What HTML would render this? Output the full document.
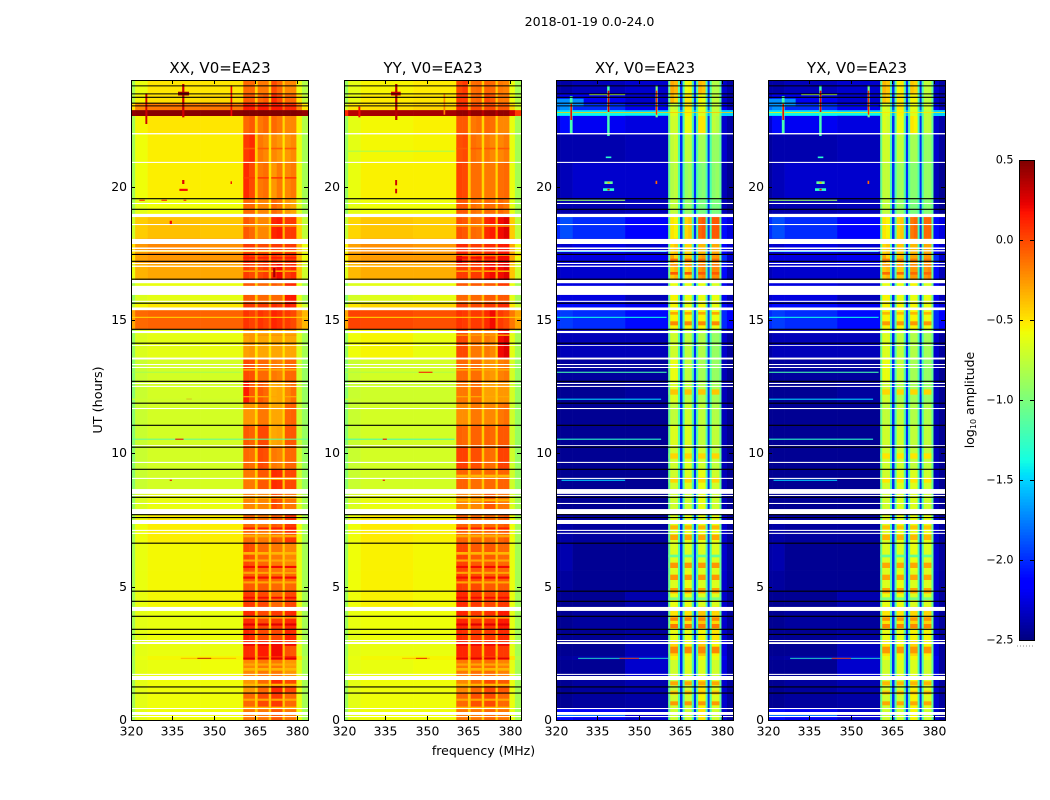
<!DOCTYPE html>
<html><head><meta charset="utf-8"><title>2018-01-19 0.0-24.0</title>
<style>
html,body{margin:0;padding:0;background:#fff}
svg{display:block}
text{font-family:"DejaVu Sans","Liberation Sans",sans-serif;fill:#000}
</style></head>
<body>
<svg id="chart" xmlns="http://www.w3.org/2000/svg" width="1050" height="800" viewBox="0 0 1050 800">
<rect x="0" y="0" width="1050" height="800" fill="#fff"/>
<text x="589.5" y="26" font-size="12.6" text-anchor="middle">2018-01-19 0.0-24.0</text>
<text x="483.5" y="755" font-size="12.5" text-anchor="middle">frequency (MHz)</text>
<text x="0" y="0" font-size="12.8" text-anchor="middle" transform="translate(102,400) rotate(-90)">UT (hours)</text>
<text x="0" y="0" font-size="12.5" text-anchor="middle" transform="translate(974,400) rotate(-90)">log<tspan font-size="8" dy="2">10</tspan><tspan dy="-2"> amplitude</tspan></text>
<g id="panels"></g>
<g id="colorbar"></g>
</svg>
<script>
// Frequency bin edges (MHz) and UT band edges (hours, top to bottom)
const freqEdges = [320,321.5,326,345,360.6,362.7,364.8,365.8,367.8,369.8,370.7,372.7,374.8,375.6,377.7,379.8,381.8,384];
const utEdges = [24,23.47,23.13,22.87,22.65,22,20.9,19.55,18.95,18.05,17.45,17.1,16.5,16.25,15.6,15.37,14.65,13.55,12.7,11.9,11.05,10.25,9.4,8.65,7.9,6.65,5.6,4.85,4.25,3.4,2.95,2.4,2.25,1.65,1,0.45,0];

// log10 amplitude per UT band (rows) and frequency bin (columns)
const xxValues = [
[-.85,-.6,-.5,-.5,-.1,-.1,-.45,-.15,-.15,-.45,0,-.1,-.4,-.2,-.2,-.6,-.8],
[-.8,-.55,-.48,-.46,-.05,-.05,-.4,-.1,-.05,-.4,.1,0,-.35,-.1,-.1,-.5,-.75],
[-.5,-.2,-.15,-.15,.15,.15,-.1,.15,.15,-.1,.15,.15,-.1,.1,.1,-.2,-.5],
[.45,.48,.48,.48,.5,.5,.48,.5,.5,.48,.5,.5,.48,.5,.5,.48,.45],
[-.85,-.55,-.5,-.5,-.1,-.05,-.4,-.15,-.1,-.45,-.1,-.15,-.45,-.2,-.2,-.55,-.8],
[-.85,-.58,-.53,-.53,.05,.1,-.42,-.15,-.2,-.5,-.2,-.25,-.5,-.25,-.2,-.6,-.85],
[-.85,-.58,-.53,-.53,.1,.0,-.42,-.15,-.12,-.5,-.25,-.15,-.5,-.2,-.15,-.6,-.85],
[-.85,-.62,-.58,-.58,-.1,-.1,-.45,-.2,-.2,-.5,-.1,-.15,-.5,-.25,-.3,-.65,-.85],
[-.7,-.42,-.38,-.4,-.05,-.1,-.35,-.2,-.2,-.4,.12,.15,-.35,.05,.05,-.45,-.75],
[-.5,-.25,-.2,-.22,.05,.05,-.25,0,0,-.3,.05,.05,-.3,.05,.05,-.35,-.6],
[-.5,-.28,-.25,-.25,.1,.05,-.2,0,.05,-.25,.05,0,-.25,.05,.05,-.35,-.6],
[-.6,-.34,-.3,-.3,.05,.0,-.3,0,.05,-.3,.1,.2,-.3,.05,.1,-.4,-.7],
[-.85,-.62,-.6,-.6,-.05,-.05,-.4,-.1,-.1,-.4,-.05,-.1,-.4,.1,.1,-.6,-.85],
[-.9,-.65,-.62,-.62,-.05,-.05,-.4,-.1,-.1,-.4,-.1,-.1,-.4,.15,.15,-.62,-.85],
[-.75,-.55,-.5,-.5,.05,.05,-.25,.05,.05,-.25,.1,.05,-.25,.15,.1,-.5,-.7],
[-.3,-.1,-.08,-.08,.07,.03,-.1,.07,.03,-.1,.12,.08,-.1,.05,0,-.2,-.35],
[-.9,-.65,-.62,-.6,-.28,-.25,-.5,-.3,-.3,-.5,-.3,-.3,-.5,-.3,-.3,-.65,-.85],
[-.95,-.72,-.68,-.68,.0,-.02,-.42,-.1,-.1,-.42,-.15,-.18,-.42,-.1,-.1,-.7,-.9],
[-.95,-.72,-.68,-.68,.15,-.05,-.42,-.05,-.1,-.42,-.32,-.3,-.45,-.2,-.12,-.7,-.9],
[-.95,-.72,-.68,-.68,-.25,-.25,-.45,-.15,-.15,-.42,-.3,-.3,-.45,-.1,-.08,-.72,-.9],
[-.95,-.72,-.68,-.68,-.05,-.08,-.42,0,0,-.4,-.3,-.28,-.45,-.05,-.05,-.72,-.9],
[-.95,-.72,-.68,-.68,-.1,-.12,-.42,0,-.02,-.4,-.15,-.18,-.42,-.1,-.1,-.7,-.9],
[-.95,-.72,-.68,-.67,-.15,-.15,-.42,-.05,-.05,-.4,.1,.08,-.4,0,0,-.7,-.9],
[-.9,-.66,-.6,-.6,-.2,-.2,-.42,-.2,-.2,-.42,0,-.05,-.42,-.15,-.15,-.65,-.85],
[-.85,-.58,-.53,-.53,-.1,-.1,-.38,-.15,-.15,-.4,-.05,-.08,-.4,.05,.05,-.58,-.85],
[-.85,-.6,-.56,-.55,0,-.02,-.4,-.1,-.1,-.42,-.15,-.15,-.42,-.2,-.2,-.6,-.85],
[-.85,-.6,-.56,-.55,-.05,-.05,-.4,-.05,-.05,-.42,-.1,-.1,-.42,-.1,-.1,-.6,-.85],
[-.85,-.6,-.56,-.55,.05,.05,-.38,0,0,-.4,-.1,-.1,-.4,0,0,-.6,-.85],
[-.85,-.62,-.6,-.6,.1,.1,-.38,0,0,-.4,.05,.05,-.4,.1,.1,-.62,-.85],
[-.85,-.62,-.58,-.58,.12,.08,-.38,0,0,-.4,0,0,-.4,.12,.08,-.62,-.85],
[-.85,-.62,-.6,-.6,.1,.1,-.35,.15,.15,-.38,.2,.2,-.38,-.02,-.05,-.62,-.85],
[-.8,-.6,-.56,-.55,.1,.1,-.3,.05,.05,-.3,.1,.1,-.3,.1,.1,-.5,-.8],
[-.85,-.62,-.6,-.58,-.2,-.2,-.42,-.15,-.15,-.42,-.15,-.15,-.42,-.25,-.25,-.62,-.85],
[-.85,-.62,-.58,-.58,-.25,-.25,-.42,-.1,-.1,-.42,.1,.1,-.42,0,0,-.6,-.85],
[-.85,-.62,-.58,-.58,-.1,-.1,-.42,0,0,-.4,.05,.05,-.42,-.1,-.1,-.6,-.85],
[-.85,-.62,-.58,-.58,-.15,-.15,-.42,-.15,-.15,-.42,-.05,-.05,-.42,-.15,-.15,-.6,-.85]
];
const yyValues = [
[-.9,-.62,-.55,-.52,0,.05,-.42,-.12,-.1,-.42,-.08,-.1,-.42,-.15,-.18,-.6,-.85],
[-.85,-.6,-.52,-.5,.05,.05,-.4,-.1,-.08,-.42,0,-.05,-.4,-.15,-.15,-.58,-.8],
[-.7,-.5,-.48,-.45,.1,.1,-.3,0,0,-.3,0,0,-.3,-.05,-.05,-.45,-.7],
[.1,.35,.4,.4,.45,.45,.35,.45,.45,.35,.45,.45,.35,.45,.45,.3,.05],
[-.9,-.62,-.56,-.54,-.05,-.05,-.42,-.15,-.12,-.45,-.1,-.12,-.45,-.2,-.2,-.6,-.85],
[-.9,-.62,-.56,-.55,-.02,0,-.42,-.12,-.15,-.45,-.15,-.2,-.45,-.2,-.15,-.6,-.85],
[-.9,-.6,-.54,-.54,.02,.0,-.42,-.12,-.12,-.45,-.15,-.15,-.45,-.12,-.1,-.6,-.85],
[-.9,-.62,-.58,-.58,-.05,-.05,-.42,-.12,-.15,-.42,-.1,-.12,-.42,-.1,-.15,-.62,-.85],
[-.75,-.45,-.4,-.42,-.02,-.05,-.35,-.1,-.12,-.35,.1,.15,-.35,.2,.25,-.42,-.75],
[-.55,-.28,-.22,-.25,.1,.1,-.2,.05,.05,-.25,.1,.1,-.25,.15,.15,-.3,-.6],
[-.55,-.3,-.26,-.26,.25,.1,-.15,.05,.1,-.2,.1,.1,-.2,.2,.2,-.3,-.6],
[-.65,-.36,-.32,-.32,.05,.05,-.28,.05,.05,-.28,.15,.2,-.28,.2,.25,-.4,-.7],
[-.9,-.65,-.62,-.6,-.05,-.05,-.38,-.05,-.05,-.38,-.05,-.05,-.38,.05,.05,-.6,-.85],
[-.95,-.68,-.64,-.62,-.1,-.1,-.38,-.1,-.1,-.38,-.05,-.05,-.38,-.05,-.05,-.62,-.85],
[-.75,-.5,-.45,-.45,.02,.02,-.25,0,0,-.25,.05,.05,-.25,.1,.1,-.5,-.7],
[-.3,.02,.0,-.02,.07,.05,-.1,.05,.05,-.1,.1,.2,-.15,.05,0,-.15,-.3],
[-.9,-.58,-.55,-.6,.0,.0,-.42,-.15,-.15,-.42,-.15,-.2,-.42,.2,.25,-.62,-.85],
[-.95,-.72,-.68,-.68,-.1,-.1,-.4,-.12,-.12,-.4,-.22,-.25,-.42,-.18,-.15,-.68,-.9],
[-.95,-.72,-.7,-.7,-.15,-.15,-.42,-.12,-.12,-.42,-.28,-.28,-.42,-.25,-.25,-.68,-.9],
[-.95,-.72,-.68,-.68,-.22,-.22,-.42,-.15,-.15,-.42,-.2,-.2,-.42,-.15,-.12,-.7,-.9],
[-.95,-.72,-.68,-.68,-.08,-.1,-.4,-.08,-.08,-.42,-.08,-.1,-.42,-.05,-.05,-.7,-.9],
[-.95,-.72,-.68,-.68,.03,.03,-.38,-.02,-.02,-.4,-.1,-.12,-.42,.02,.02,-.7,-.9],
[-.95,-.72,-.68,-.68,-.08,-.08,-.38,-.12,-.12,-.4,-.1,-.1,-.42,-.08,-.08,-.7,-.9],
[-.9,-.66,-.6,-.6,-.2,-.2,-.42,-.2,-.2,-.42,-.05,-.05,-.42,-.15,-.15,-.65,-.85],
[-.88,-.58,-.52,-.54,-.08,-.08,-.38,-.1,-.1,-.38,-.1,-.12,-.38,-.08,-.05,-.58,-.85],
[-.88,-.58,-.54,-.56,.02,.02,-.38,-.05,-.05,-.38,-.05,-.05,-.38,-.1,-.1,-.6,-.85],
[-.88,-.58,-.54,-.56,.05,.03,-.38,.0,.0,-.38,-.05,-.05,-.38,-.05,-.05,-.6,-.85],
[-.88,-.58,-.54,-.56,.1,.1,-.38,.05,.05,-.38,0,0,-.38,.05,.05,-.6,-.85],
[-.88,-.6,-.58,-.58,.12,.12,-.35,.05,.05,-.38,.08,.08,-.38,.15,.15,-.62,-.85],
[-.88,-.62,-.58,-.58,.1,.08,-.35,.05,.05,-.38,.05,.05,-.38,.1,.1,-.62,-.85],
[-.88,-.62,-.6,-.6,.12,.12,-.35,.1,.1,-.38,.1,.1,-.38,.05,.05,-.62,-.85],
[-.85,-.6,-.56,-.55,.1,.1,-.3,.1,.1,-.3,.05,.05,-.3,.05,.05,-.5,-.8],
[-.88,-.62,-.6,-.58,-.15,-.15,-.42,-.12,-.12,-.42,-.12,-.12,-.42,-.18,-.18,-.62,-.85],
[-.88,-.62,-.58,-.58,-.2,-.2,-.42,-.1,-.1,-.42,.0,.0,-.42,-.05,-.05,-.6,-.85],
[-.88,-.62,-.58,-.58,-.1,-.1,-.42,-.02,-.02,-.42,0,0,-.42,-.1,-.1,-.6,-.85],
[-.88,-.62,-.58,-.58,-.15,-.15,-.42,-.15,-.15,-.42,-.1,-.1,-.42,-.15,-.15,-.6,-.85]
];
const xyValues = [
[-2.4,-2.4,-2.35,-2.3,-.3,-.35,-2,-.6,-.55,-2,-.35,-.4,-2,-.8,-.8,-2.3,-2.4],
[-2.3,-2.2,-2.2,-2.3,-.35,-.45,-2,-.5,-.5,-2,-.55,-.6,-2,-.75,-.75,-2.3,-2.4],
[-1.8,-1.7,-2,-2.2,-.7,-.75,-1.9,-.5,-.5,-1.9,-.6,-.6,-1.9,-.75,-.75,-2.2,-2.35],
[-1.5,-1.5,-1.5,-1.6,-.65,-.65,-1.6,-.55,-.55,-1.6,-.65,-.65,-1.6,-.75,-.75,-1.5,-1.5],
[-2.3,-2.1,-2.2,-2.25,-.7,-.7,-2,-.6,-.6,-2,-.5,-.5,-2,-.75,-.8,-2.3,-2.4],
[-2.42,-2.38,-2.38,-2.35,-.75,-.7,-2,-.75,-.75,-2,-.85,-.85,-2,-.9,-.9,-2.3,-2.42],
[-2.42,-2.35,-2.3,-2.3,-.8,-.75,-2,-.9,-.85,-2,-1,-.95,-2,-.95,-.9,-2.35,-2.45],
[-2.42,-2.38,-2.38,-2.35,-.75,-.75,-2,-.9,-.9,-2,-1,-1,-2,-1,-1,-2.35,-2.45],
[-2,-1.9,-2,-2.15,-.5,-.55,-2,-.45,-.4,-2,-.1,-.05,-2,-.05,-.05,-2.1,-2.25],
[-2.3,-2.3,-2.25,-2.3,-.45,-.4,-2,-.45,-.45,-2,-.35,-.35,-2,-.3,-.3,-2.15,-2.3],
[-2.25,-2.25,-2.25,-2.2,-.3,-.45,-1.9,-.4,-.4,-1.9,-.3,-.25,-1.9,-.25,-.25,-2,-2.3],
[-2.35,-2.3,-2.3,-2.3,-.4,-.35,-1.9,-.45,-.4,-1.9,-.25,-.2,-1.9,-.2,-.2,-2.1,-2.35],
[-2.25,-2.25,-2.25,-2.3,-.6,-.6,-2,-.6,-.6,-2,-.6,-.6,-2,-.65,-.65,-2.2,-2.35],
[-2.3,-2.25,-2.25,-2.35,-.55,-.55,-2,-.6,-.6,-2,-.6,-.6,-2,-.6,-.6,-2.2,-2.35],
[-2.2,-2.1,-2.1,-2.2,-.55,-.55,-2,-.6,-.6,-2,-.55,-.55,-2,-.6,-.6,-2.1,-2.25],
[-2,-1.95,-2,-2.1,-.55,-.55,-1.95,-.55,-.55,-1.95,-.55,-.55,-1.95,-.6,-.6,-2,-2.15],
[-2.4,-2.35,-2.35,-2.35,-.7,-.7,-2,-.75,-.75,-2,-.8,-.8,-2,-.9,-.9,-2.3,-2.42],
[-2.45,-2.42,-2.42,-2.42,-.6,-.6,-2,-.75,-.75,-2,-.85,-.85,-2,-.9,-.9,-2.35,-2.45],
[-2.45,-2.45,-2.45,-2.42,-.65,-.65,-2,-.75,-.75,-2,-.8,-.8,-2,-.85,-.85,-2.35,-2.45],
[-2.45,-2.45,-2.45,-2.45,-.75,-.75,-2,-.7,-.7,-2,-.75,-.75,-2,-.8,-.8,-2.35,-2.45],
[-2.45,-2.45,-2.45,-2.45,-.65,-.65,-2,-.65,-.65,-2,-.75,-.75,-2,-.75,-.75,-2.35,-2.45],
[-2.45,-2.45,-2.45,-2.45,-.7,-.7,-2,-.65,-.65,-2,-.7,-.7,-2,-.75,-.75,-2.35,-2.45],
[-2.45,-2.45,-2.45,-2.45,-.7,-.7,-2,-.65,-.65,-2,-.6,-.6,-2,-.7,-.7,-2.35,-2.45],
[-2.45,-2.45,-2.45,-2.45,-.7,-.7,-2,-.7,-.7,-2,-.6,-.6,-2,-.7,-.7,-2.35,-2.45],
[-2.42,-2.4,-2.42,-2.42,-.65,-.65,-2,-.6,-.6,-2,-.6,-.6,-2,-.6,-.6,-2.3,-2.42],
[-2.4,-2.38,-2.45,-2.45,-.65,-.65,-2,-.65,-.65,-2,-.65,-.65,-2,-.65,-.65,-2.3,-2.42],
[-2.42,-2.42,-2.45,-2.45,-.65,-.65,-2,-.6,-.6,-2,-.65,-.65,-2,-.65,-.65,-2.3,-2.42],
[-2.45,-2.45,-2.45,-2.38,-.6,-.6,-2,-.6,-.6,-2,-.65,-.65,-2,-.65,-.65,-2.3,-2.42],
[-2.45,-2.45,-2.42,-2.42,-.5,-.5,-2,-.5,-.5,-2,-.4,-.4,-2,-.45,-.45,-2.3,-2.42],
[-2.45,-2.45,-2.45,-2.42,-.6,-.6,-2,-.6,-.6,-2,-.55,-.55,-2,-.5,-.5,-2.3,-2.42],
[-2.45,-2.45,-2.45,-2.35,-.45,-.45,-2,-.55,-.55,-2,-.4,-.4,-2,-.55,-.55,-2.25,-2.42],
[-2.42,-2.42,-2.4,-2.3,-.55,-.55,-2,-.6,-.6,-2,-.55,-.55,-2,-.6,-.6,-2.2,-2.42],
[-2.45,-2.45,-2.45,-2.3,-.7,-.7,-2,-.65,-.65,-2,-.65,-.65,-2,-.7,-.7,-2.25,-2.42],
[-2.45,-2.45,-2.42,-2.38,-.75,-.75,-2,-.7,-.7,-2,-.5,-.5,-2,-.65,-.65,-2.3,-2.42],
[-2.45,-2.45,-2.42,-2.4,-.7,-.7,-2,-.7,-.7,-2,-.55,-.55,-2,-.65,-.65,-2.3,-2.42],
[-2.1,-2.1,-2.2,-2.3,-.7,-.7,-2,-.7,-.7,-2,-.5,-.5,-2,-.7,-.7,-2.3,-2.42]
];
const yxValues = [
[-2.4,-2.4,-2.35,-2.3,-.35,-.4,-2,-.55,-.5,-2,-.4,-.45,-2,-.75,-.75,-2.3,-2.4],
[-2.3,-2.2,-2.2,-2.3,-.4,-.45,-2,-.5,-.5,-2,-.55,-.55,-2,-.75,-.75,-2.3,-2.4],
[-1.8,-1.7,-2,-2.2,-.65,-.7,-1.9,-.5,-.5,-1.9,-.6,-.6,-1.9,-.7,-.7,-2.2,-2.35],
[-1.5,-1.5,-1.5,-1.6,-.65,-.65,-1.6,-.55,-.55,-1.6,-.65,-.65,-1.6,-.75,-.75,-1.5,-1.5],
[-2.3,-2.1,-2.2,-2.25,-.65,-.7,-2,-.6,-.6,-2,-.5,-.55,-2,-.75,-.75,-2.3,-2.4],
[-2.42,-2.38,-2.38,-2.35,-.7,-.7,-2,-.75,-.75,-2,-.85,-.85,-2,-.9,-.9,-2.3,-2.42],
[-2.42,-2.35,-2.3,-2.3,-.75,-.75,-2,-.9,-.85,-2,-.95,-.95,-2,-.9,-.9,-2.35,-2.45],
[-2.42,-2.38,-2.38,-2.35,-.75,-.75,-2,-.9,-.9,-2,-1,-1,-2,-.95,-.95,-2.35,-2.45],
[-2,-1.9,-2,-2.15,-.5,-.55,-2,-.45,-.4,-2,-.15,-.1,-2,-.1,-.1,-2.1,-2.25],
[-2.3,-2.3,-2.25,-2.3,-.45,-.4,-2,-.4,-.4,-2,-.35,-.35,-2,-.3,-.3,-2.15,-2.3],
[-2.25,-2.25,-2.25,-2.2,-.3,-.45,-1.9,-.4,-.35,-1.9,-.3,-.3,-1.9,-.25,-.25,-2,-2.3],
[-2.35,-2.3,-2.3,-2.3,-.4,-.35,-1.9,-.4,-.4,-1.9,-.25,-.25,-1.9,-.25,-.2,-2.1,-2.35],
[-2.25,-2.25,-2.25,-2.3,-.6,-.6,-2,-.6,-.6,-2,-.55,-.55,-2,-.65,-.65,-2.2,-2.35],
[-2.3,-2.25,-2.25,-2.35,-.55,-.55,-2,-.6,-.6,-2,-.6,-.6,-2,-.6,-.6,-2.2,-2.35],
[-2.2,-2.1,-2.1,-2.2,-.55,-.55,-2,-.55,-.55,-2,-.55,-.55,-2,-.6,-.6,-2.1,-2.25],
[-2,-1.95,-2,-2.1,-.55,-.55,-1.95,-.55,-.55,-1.95,-.55,-.55,-1.95,-.6,-.6,-2,-2.15],
[-2.4,-2.35,-2.35,-2.35,-.65,-.65,-2,-.75,-.75,-2,-.8,-.8,-2,-.85,-.85,-2.3,-2.42],
[-2.45,-2.42,-2.42,-2.42,-.6,-.6,-2,-.75,-.75,-2,-.85,-.85,-2,-.9,-.9,-2.35,-2.45],
[-2.45,-2.45,-2.45,-2.42,-.7,-.7,-2,-.8,-.8,-2,-.85,-.85,-2,-.9,-.9,-2.35,-2.45],
[-2.45,-2.45,-2.45,-2.45,-.75,-.75,-2,-.75,-.75,-2,-.8,-.8,-2,-.8,-.8,-2.35,-2.45],
[-2.45,-2.45,-2.45,-2.45,-.7,-.7,-2,-.7,-.7,-2,-.75,-.75,-2,-.75,-.75,-2.35,-2.45],
[-2.45,-2.45,-2.45,-2.45,-.7,-.7,-2,-.7,-.7,-2,-.75,-.75,-2,-.75,-.75,-2.35,-2.45],
[-2.45,-2.45,-2.45,-2.45,-.7,-.7,-2,-.65,-.65,-2,-.65,-.65,-2,-.7,-.7,-2.35,-2.45],
[-2.45,-2.45,-2.45,-2.45,-.7,-.7,-2,-.65,-.65,-2,-.65,-.65,-2,-.7,-.7,-2.35,-2.45],
[-2.42,-2.4,-2.42,-2.42,-.65,-.65,-2,-.6,-.6,-2,-.6,-.6,-2,-.6,-.6,-2.3,-2.42],
[-2.4,-2.38,-2.45,-2.45,-.65,-.65,-2,-.65,-.65,-2,-.6,-.6,-2,-.65,-.65,-2.3,-2.42],
[-2.42,-2.42,-2.45,-2.45,-.65,-.65,-2,-.6,-.6,-2,-.65,-.65,-2,-.65,-.65,-2.3,-2.42],
[-2.45,-2.45,-2.45,-2.38,-.6,-.6,-2,-.6,-.6,-2,-.65,-.65,-2,-.65,-.65,-2.3,-2.42],
[-2.45,-2.45,-2.42,-2.42,-.5,-.5,-2,-.5,-.5,-2,-.45,-.45,-2,-.45,-.45,-2.3,-2.42],
[-2.45,-2.45,-2.45,-2.42,-.6,-.6,-2,-.6,-.6,-2,-.55,-.55,-2,-.55,-.55,-2.3,-2.42],
[-2.45,-2.45,-2.45,-2.35,-.5,-.5,-2,-.55,-.55,-2,-.45,-.45,-2,-.55,-.55,-2.25,-2.42],
[-2.42,-2.42,-2.4,-2.3,-.6,-.6,-2,-.55,-.55,-2,-.55,-.55,-2,-.6,-.6,-2.2,-2.42],
[-2.45,-2.45,-2.45,-2.3,-.7,-.7,-2,-.65,-.65,-2,-.65,-.65,-2,-.7,-.7,-2.25,-2.42],
[-2.45,-2.45,-2.42,-2.38,-.7,-.7,-2,-.7,-.7,-2,-.55,-.55,-2,-.65,-.65,-2.3,-2.42],
[-2.45,-2.45,-2.42,-2.4,-.7,-.7,-2,-.7,-.7,-2,-.55,-.55,-2,-.65,-.65,-2.3,-2.42],
[-2.1,-2.1,-2.2,-2.3,-.7,-.7,-2,-.7,-.7,-2,-.55,-.55,-2,-.7,-.7,-2.3,-2.42]
];

// Fine horizontal banding across the four receiver stripes: [utLow, utHigh, log10 amplitude]
const stripeRanges = [[360.6,364.8],[365.8,369.8],[370.7,374.8],[375.6,379.8]];
const xxBands = [[.42,.5,-.35],[.72,.8,-.3],[1.28,1.36,-.35],[1.85,1.95,-.35],[2.04,2.12,-.3],[2.28,2.34,.25],[2.78,2.86,.2],[3.54,3.62,.25],[3.8,3.88,-.25],[4.55,4.62,.2],[5.12,5.2,-.3],[5.3,5.38,.2],[5.48,5.56,-.3],[5.7,5.78,.2],[5.94,6.02,-.3],[6.2,6.3,-.35],[6.85,6.95,-.3],[7.16,7.22,.15],[8.3,8.38,-.35],[9,9.1,-.3],[12.1,12.15,-.3],[13.1,13.16,-.3],[14.4,14.46,-.25],[17.3,17.36,.15],[16.8,16.86,-.3],[17,17.05,.1],[18.5,18.55,-.3],[20.3,20.36,.05],[21.4,21.46,-.05]];
const yyBands = [[.42,.5,-.35],[.72,.8,-.3],[1.28,1.36,-.35],[1.85,1.95,-.35],[2.04,2.12,-.3],[2.28,2.34,.25],[2.78,2.86,.2],[3.54,3.62,.25],[3.8,3.88,-.25],[4.55,4.62,.2],[5.12,5.2,-.3],[5.3,5.38,.2],[5.48,5.56,-.3],[5.7,5.78,.2],[5.94,6.02,-.3],[6.2,6.3,-.35],[6.85,6.95,-.3],[7.16,7.22,.15],[8.2,8.28,-.35],[9.1,9.2,-.35],[12.1,12.15,-.3],[13.1,13.16,-.3],[14.4,14.46,-.25],[17.3,17.36,.2],[16.8,16.86,-.3],[18.5,18.55,-.3],[21.4,21.46,-.05]];
const xyBands = [[.55,.7,-.25],[.95,1.1,-.4],[1.3,1.45,-.3],[2.5,2.75,-.2],[3.45,3.6,-.15],[3.72,3.85,-.2],[4.75,4.95,-.3],[4.5,4.6,-1],[5.25,5.45,-.25],[5.7,5.9,-.25],[6.1,6.2,-1.1],[6.75,6.95,-.3],[7.15,7.3,-.35],[8.9,9.1,-.45],[9.8,10,-.45],[12.2,12.4,-.4],[14.8,14.95,-.2],[15.2,15.3,-.3],[17.2,17.3,-.1],[17,17.08,-.1],[16.7,16.8,-.05]];
const yxBands = [[.55,.7,-.3],[.95,1.1,-.4],[1.3,1.45,-.35],[2.5,2.75,-.25],[3.45,3.6,-.2],[3.72,3.85,-.25],[4.75,4.95,-.3],[4.5,4.6,-1],[5.25,5.45,-.3],[5.7,5.9,-.3],[6.1,6.2,-1.1],[6.75,6.95,-.35],[7.15,7.3,-.4],[8.9,9.1,-.5],[9.8,10,-.5],[12.2,12.4,-.45],[14.8,14.95,-.25],[15.2,15.3,-.35],[17.2,17.3,-.15],[17,17.08,-.15],[16.7,16.8,-.1]];

// Narrow interference features: [freqLow, freqHigh, utLow, utHigh, log10 amplitude]
const xxFeatures = [
[325.2,325.9,22.35,23.5,.3],[338.5,339.3,22.6,23.85,.3],[337,341,23.42,23.56,.45],[356,356.6,22.65,23.8,.2],
[338.5,339.3,20.1,20.25,.25],[337.5,340.5,19.84,19.92,.2],[356,356.5,20.1,20.2,.2],
[323,325,19.47,19.51,.1],[331,333,19.47,19.51,.1],[339,340,19.47,19.51,.1],[334,334.8,18.6,18.72,.2],
[320,384,17.55,17.59,-.5],[320,384,15.08,15.12,-.45],[371.4,372.2,16.6,16.95,.4],
[320,360,13.02,13.06,-.85],[340,342,12.01,12.05,.2],[320,360,12.01,12.05,-.7],[320,384,10.51,10.55,-1.1],[336,339,10.51,10.55,.2],
[334,334.8,8.97,9.01,.2],[338,358,2.3,2.33,-.3],[344,349,2.3,2.33,.35]
];
const yyFeatures = [
[325.2,325.9,22.6,23,.2],[338.5,339.3,22.5,23.85,.35],[337,340.5,23.42,23.56,.3],[356,356.6,22.7,23.5,-.2],
[338.5,339.2,20.05,20.25,.3],[338.5,339.2,19.75,19.92,.3],[320,360,21.31,21.35,-.85],
[320,384,17.41,17.45,-.3],[320,384,15.08,15.12,-.45],[320,360,13.02,13.06,-.8],[347,352,13.02,13.06,.15],
[320,360,12.01,12.05,-.7],[320,360,10.51,10.55,-1.2],[334,335.5,10.51,10.55,.2],[334,334.8,8.97,9.01,.2],
[341,351,2.3,2.33,-.3],[346,350,2.3,2.33,.25]
];
const xyFeatures = [
[360.6,361.3,0,24,-1.1],[364.1,364.8,0,24,-1.2],[365.8,366.5,0,24,-1.2],[369.1,369.8,0,24,-1.2],[370.7,371.4,0,24,-1.2],[374.1,374.8,0,24,-1.2],[375.6,376.3,0,24,-1.2],[379.1,379.8,0,24,-1.1],
[320,360.6,22.68,22.82,-1.4],[320,384,22.77,22.8,-.4],[320,360,23.01,23.05,-1.6],[320,330,23,23.3,-1.7],
[325,326,22,23.4,-1.2],[325.2,325.8,22.5,23.1,.2],[338.5,339.4,21.9,23.8,-1.2],[332,345,23.43,23.47,-.8],[338.7,339.3,22.8,23.6,.25],
[356,356.8,22.6,23.8,-1],[356.1,356.6,22.7,23.6,.1],
[337,341,19.84,19.94,-1.3],[338.6,339.4,19.86,19.92,.2],[337.5,340.5,20.1,20.2,-1.1],[338.6,339.4,20.12,20.18,-.3],[338,340,21.07,21.13,-1.3],[356,356.6,20.1,20.22,-.1],
[320,345,19.47,19.51,-.9],[320,360,17.55,17.59,-1.5],[320,360,15.08,15.12,-1.4],[320,360,13.02,13.06,-1.2],[320,358,12.01,12.05,-1.5],[320,358,10.51,10.55,-1.3],[322,345,8.97,9.01,-1.5],
[328,360.6,2.3,2.33,-1.3],[343,350,2.3,2.33,.1],[320,345,.12,.18,-1.7]
];
const yxFeatures = [
[360.6,361.3,0,24,-1.1],[364.1,364.8,0,24,-1.2],[365.8,366.5,0,24,-1.2],[369.1,369.8,0,24,-1.2],[370.7,371.4,0,24,-1.2],[374.1,374.8,0,24,-1.2],[375.6,376.3,0,24,-1.2],[379.1,379.8,0,24,-1.1],
[320,360.6,22.68,22.82,-1.4],[320,384,22.77,22.8,-.5],[320,360,23.01,23.05,-1.6],[320,330,23,23.3,-1.7],
[325,326,22,23.4,-1.2],[325.2,325.8,22.5,23.1,.2],[338.5,339.4,21.9,23.8,-1.2],[332,345,23.43,23.47,-.8],[338.7,339.3,22.8,23.6,.25],
[356,356.8,22.6,23.8,-1],[356.1,356.6,22.7,23.6,.1],
[337,341,19.84,19.94,-1.3],[338.6,339.4,19.86,19.92,.2],[337.5,340.5,20.1,20.2,-1.1],[338.6,339.4,20.12,20.18,-.3],[338,340,21.07,21.13,-1.3],[356,356.6,20.1,20.22,-.1],
[320,345,19.47,19.51,-.9],[320,360,17.55,17.59,-1.5],[320,360,15.08,15.12,-1.4],[320,360,13.02,13.06,-1.2],[320,358,12.01,12.05,-1.5],[320,358,10.51,10.55,-1.3],[322,345,8.97,9.01,-1.5],
[328,360.6,2.3,2.33,-1.3],[343,350,2.3,2.33,.1],[320,345,.12,.18,-1.7]
];

// Flagged (blank) UT ranges [utLow, utHigh] and marker-line times
const flaggedBands = [[21.96,22.01],[20.89,20.93],[19.35,19.39],[18.86,18.98],[18.56,18.6],[17.85,18.04],[17.66,17.72],[17.57,17.62],[17.1,17.14],[16.99,17.04],[16.38,16.5],[15.94,16.28],[15.68,15.72],[15.37,15.47],[14.51,14.59],[14.03,14.06],[13.52,13.59],[13.31,13.35],[13.2,13.24],[12.6,12.64],[12.49,12.53],[11.66,11.7],[10.28,10.31],[9.64,9.68],[9.04,9.08],[8.48,8.66],[8.4,8.44],[8.1,8.14],[7.72,7.91],[7.35,7.5],[7.09,7.13],[6.98,7.02],[4.09,4.24],[2.96,3],[2.85,2.92],[1.69,1.73],[1.5,1.65],[.41,.45],[.19,.3],[.11,.15]];
const markerTimes = [23.78,23.48,23.35,23.13,23.03,19.55,19.15,17.46,17.2,16.53,15.63,14.65,14.13,12.7,11.88,11.05,10.23,9.4,8.35,7.7,7.59,6.63,4.83,4.45,3.89,3.4,3.21,1.24,1.01];

// Tick labels and panel titles
const freqTicks = [320,335,350,365,380];
const utTicks = [0,5,10,15,20];
const colorTicks = [0.5,0,-0.5,-1,-1.5,-2,-2.5];
const panelTitles = ["XX, V0=EA23","YY, V0=EA23","XY, V0=EA23","YX, V0=EA23"];
const panelValues = [xxValues,yyValues,xyValues,yxValues];
const panelBands = [xxBands,yyBands,xyBands,yxBands];
const panelFeatures = [xxFeatures,yyFeatures,xyFeatures,yxFeatures];

const NS = "http://www.w3.org/2000/svg";
const axTop = 80, axBottom = 720, axWidth = 177;
const axLefts = [131,344,556,768];
const vMin = -2.5, vMax = 0.5;
const fMin = 320, fMax = 384, utMin = 0, utMax = 24;

function xScale(left, f){ return left + (f - fMin) / (fMax - fMin) * axWidth; }
function yScale(ut){ return axBottom - (ut - utMin) / (utMax - utMin) * (axBottom - axTop); }
function clamp(v){ return Math.max(0, Math.min(1, v)); }
function jet(v){
  const t = clamp((v - vMin) / (vMax - vMin));
  const r = clamp(t < .35 ? 0 : t < .66 ? (t - .35) / .31 : t < .89 ? 1 : 1 - (t - .89) / .11 * .5);
  const g = clamp(t < .125 ? 0 : t < .375 ? (t - .125) / .25 : t < .64 ? 1 : t < .91 ? 1 - (t - .64) / .27 : 0);
  const b = clamp(t < .11 ? .5 + t / .11 * .5 : t < .34 ? 1 : t < .65 ? 1 - (t - .34) / .31 : 0);
  return "rgb(" + Math.round(r * 255) + "," + Math.round(g * 255) + "," + Math.round(b * 255) + ")";
}
function svgEl(tag, attrs, parent){
  const el = document.createElementNS(NS, tag);
  for (const k in attrs) el.setAttribute(k, attrs[k]);
  parent.appendChild(el);
  return el;
}

const panelsRoot = document.getElementById("panels");
panelTitles.forEach(function(title, p){
  const left = axLefts[p];
  const group = svgEl("g", {}, panelsRoot);
  
  

  const back = svgEl("rect", {x:left, y:axTop, width:axWidth, height:axBottom-axTop, fill:"#fff"}, group);
  
  

  panelValues[p].forEach(function(row, r){
    row.forEach(function(v, c){
      const x0 = xScale(left, freqEdges[c]), x1 = xScale(left, freqEdges[c+1]);
      const y0 = yScale(utEdges[r]), y1 = yScale(utEdges[r+1]);
      const cell = svgEl("rect", {x:x0, y:y0, width:x1-x0+.3, height:y1-y0+.3, fill:jet(v)}, group);
      
      
    });
  });

  panelBands[p].forEach(function(b){
    stripeRanges.forEach(function(s){
      const x0 = xScale(left, s[0]), x1 = xScale(left, s[1]);
      const y0 = yScale(b[1]), y1 = yScale(b[0]);
      const stripe = svgEl("rect", {x:x0, y:y0, width:x1-x0, height:y1-y0, fill:jet(b[2])}, group);
      
      
    });
  });

  panelFeatures[p].forEach(function(fe){
    const x0 = xScale(left, fe[0]), x1 = xScale(left, fe[1]);
    const y0 = yScale(fe[3]), y1 = yScale(fe[2]);
    const mark = svgEl("rect", {x:x0, y:y0, width:x1-x0, height:y1-y0, fill:jet(fe[4])}, group);
    
    
  });

  flaggedBands.forEach(function(b){
    const y0 = yScale(b[1]), y1 = yScale(b[0]);
    const band = svgEl("rect", {x:left, y:y0, width:axWidth, height:y1-y0, fill:"#fff"}, group);
    
    
  });

  markerTimes.forEach(function(ut){
    const y = yScale(ut);
    const line = svgEl("line", {x1:left, x2:left+axWidth, y1:y, y2:y, stroke:"#000", "stroke-width":1.1}, group);
    
    
  });

  const box = svgEl("rect", {x:left+.5, y:axTop+.5, width:axWidth, height:axBottom-axTop, fill:"none", stroke:"#000", "stroke-width":1}, group);
  
  

  const heading = svgEl("text", {x:left+axWidth/2+.5, y:axTop-7, "font-size":15, "text-anchor":"middle"}, group);
  heading.textContent = title;
  
  

  freqTicks.forEach(function(f){
    const x = Math.round(xScale(left, f)) + .5;
    const t1 = svgEl("line", {x1:x, x2:x, y1:axBottom, y2:axBottom-4, stroke:"#000"}, group);
    
    
    const t2 = svgEl("line", {x1:x, x2:x, y1:axTop, y2:axTop+4, stroke:"#000"}, group);
    
    
    const lab = svgEl("text", {x:x, y:axBottom+15.5, "font-size":12.4, "text-anchor":"middle"}, group);
    lab.textContent = f;
    
    
  });

  utTicks.forEach(function(ut){
    const y = Math.round(yScale(ut)) + .5;
    const t1 = svgEl("line", {x1:left, x2:left+4, y1:y, y2:y, stroke:"#000"}, group);
    
    
    const t2 = svgEl("line", {x1:left+axWidth, x2:left+axWidth-4, y1:y, y2:y, stroke:"#000"}, group);
    
    
    const lab = svgEl("text", {x:left-4, y:y+3.5, "font-size":12.4, "text-anchor":"end"}, group);
    lab.textContent = ut;
    
    
  });
});

// Colorbar
const cbRoot = document.getElementById("colorbar");
const cbLeft = 1019, cbWidth = 15, cbTop = 160, cbBottom = 640, cbSteps = 160;
function cbScale(v){ return cbBottom - (v - vMin) / (vMax - vMin) * (cbBottom - cbTop); }
for (let i = 0; i < cbSteps; i++){
  const v0 = vMin + (vMax - vMin) * i / cbSteps;
  const v1 = vMin + (vMax - vMin) * (i + 1) / cbSteps;
  const seg = svgEl("rect", {x:cbLeft, y:cbScale(v1), width:cbWidth, height:cbScale(v0)-cbScale(v1)+.4, fill:jet((v0+v1)/2)}, cbRoot);
  
  
}
const cbBox = svgEl("rect", {x:cbLeft+.5, y:cbTop+.5, width:cbWidth, height:cbBottom-cbTop, fill:"none", stroke:"#000"}, cbRoot);


colorTicks.forEach(function(v){
  const y = Math.round(cbScale(v)) + .5;
  const t1 = svgEl("line", {x1:cbLeft, x2:cbLeft+4, y1:y, y2:y, stroke:"#000"}, cbRoot);
  
  
  const t2 = svgEl("line", {x1:cbLeft+cbWidth, x2:cbLeft+cbWidth-4, y1:y, y2:y, stroke:"#000"}, cbRoot);
  
  
  const lab = svgEl("text", {x:cbLeft-5.5, y:y+3, "font-size":11.2, "text-anchor":"end"}, cbRoot);
  lab.textContent = (v < 0 ? "\u2212" : "") + Math.abs(v).toFixed(1);
  
  
});
const cbDots = svgEl("line", {x1:1017, x2:1034, y1:646, y2:646, stroke:"#888", "stroke-width":1, "stroke-dasharray":"1 2"}, cbRoot);


</script>
</body></html>
